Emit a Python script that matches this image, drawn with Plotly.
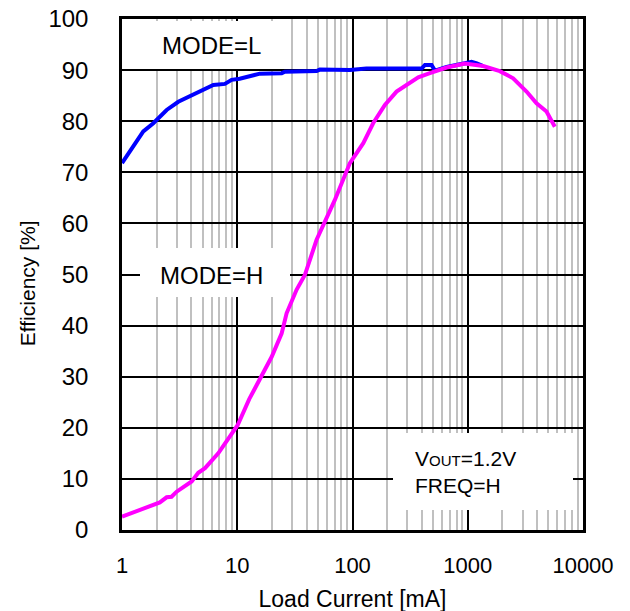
import plotly.graph_objects as go

# MODE=H (magenta) efficiency curve
h_current = [1, 1.25, 1.75, 2.13, 2.44, 2.69, 2.98, 4.02, 4.59, 5.25, 6.84, 8.65, 10.07, 12.7,
             15.7, 19.9, 24.3, 26.8, 32.7, 38.6, 48.8, 70.3, 94.9, 124, 151, 191, 241, 315,
             372, 469, 655, 944, 1361, 1897, 2477, 3236, 3953, 4823, 5694]
h_eff = [2.6, 3.4, 4.7, 5.4, 6.4, 6.5, 7.5, 9.5, 11.2, 12.1, 15.0, 18.3, 20.5, 25.6,
         29.4, 33.9, 38.5, 42.4, 47.0, 49.9, 56.8, 64.6, 71.8, 75.7, 79.6, 83.2, 85.8, 87.4,
         88.6, 89.4, 90.5, 91.3, 90.8, 89.8, 88.4, 85.8, 83.5, 81.9, 78.9]

# MODE=L (blue) efficiency curve
l_current = [1, 1.30, 1.53, 1.87, 2.44, 3.08, 4.44, 6.2, 7.82, 8.93, 10.5, 15.7, 24.3, 25.9,
             48.8, 52.1, 94.9, 132, 398, 425, 485, 519, 655, 944, 1079, 1200, 1361]
l_eff = [71.8, 75.7, 78.0, 79.6, 82.2, 83.8, 85.5, 87.1, 87.3, 88.1, 88.3, 89.3, 89.4, 89.7,
         89.8, 90.1, 90.0, 90.3, 90.3, 91.0, 91.0, 89.9, 90.6, 91.4, 91.6, 91.3, 90.8]

x_tickvals = [1, 10, 100, 1000, 10000]
x_ticktext = ["1", "10", "100", "1000", "10000"]
y_tickvals = list(range(0, 101, 10))

FONT = "Liberation Sans, Arial, sans-serif"

fig = go.Figure()
fig.add_trace(go.Scatter(x=l_current, y=l_eff, mode="lines",
                         line=dict(color="#0000ff", width=4), showlegend=False))
fig.add_trace(go.Scatter(x=h_current, y=h_eff, mode="lines",
                         line=dict(color="#ff00ff", width=4), showlegend=False))

# white label boxes: (center x, center y, width px, height px)
boxes = [(0.1811, 0.9491, 163, 48), (0.2017, 0.504, 150, 49), (0.783, 0.1145, 180, 77)]
for cx, cy, w, h in boxes:
    fig.add_annotation(text="&nbsp;", xref="paper", yref="paper", x=cx, y=cy,
                       xanchor="center", yanchor="middle",
                       width=w, height=h, bgcolor="white", borderpad=0, borderwidth=0,
                       showarrow=False, font=dict(size=10))

fig.add_annotation(text="MODE=L", xref="paper", yref="paper", x=0.195, y=0.949,
                   xanchor="center", yanchor="middle",
                   showarrow=False, font=dict(size=24, color="black", family=FONT))
fig.add_annotation(text="MODE=H", xref="paper", yref="paper", x=0.195, y=0.499,
                   xanchor="center", yanchor="middle",
                   showarrow=False, font=dict(size=24, color="black", family=FONT))
fig.add_annotation(text="V<span style='font-size:15px'>OUT</span>=1.2V<br>FREQ=H",
                   xref="paper", yref="paper", x=0.631, y=0.1135, xanchor="left",
                   yanchor="middle", align="left", showarrow=False,
                   font=dict(size=21, color="black", family=FONT))
# y-axis title
fig.add_annotation(text="Efficiency [%]", xref="paper", yref="paper", x=-0.2061, y=0.483,
                   xanchor="center", yanchor="middle", textangle=-90, showarrow=False,
                   font=dict(size=21, color="black", family=FONT))

fig.update_xaxes(type="log", range=[0, 4], tickvals=x_tickvals, ticktext=x_ticktext,
                 showgrid=True, gridcolor="black", gridwidth=2,
                 minor=dict(showgrid=True, gridcolor="#c0c0c0", gridwidth=2, dtick="D1"),
                 showline=True, linecolor="black", linewidth=2.5, mirror=True,
                 ticks="", ticklabelstandoff=14, automargin=False, ticklabeloverflow="allow",
                 tickfont=dict(size=22, color="black", family=FONT),
                 title=dict(text="Load Current [mA]", font=dict(size=23, color="black", family=FONT),
                            standoff=14),
                 zeroline=False)
fig.update_yaxes(range=[0, 100], tickvals=y_tickvals,
                 showgrid=True, gridcolor="black", gridwidth=2,
                 showline=True, linecolor="black", linewidth=2.5, mirror=True,
                 ticks="", ticklabelstandoff=26, automargin=False, ticklabeloverflow="allow",
                 tickfont=dict(size=24, color="black", family=FONT),
                 zeroline=False)

fig.update_layout(width=630, height=611, margin=dict(l=114, r=55, t=11, b=89, autoexpand=False),
                  paper_bgcolor="white", plot_bgcolor="white",
                  font=dict(family=FONT, color="black"))

fig.write_html("out.html")
